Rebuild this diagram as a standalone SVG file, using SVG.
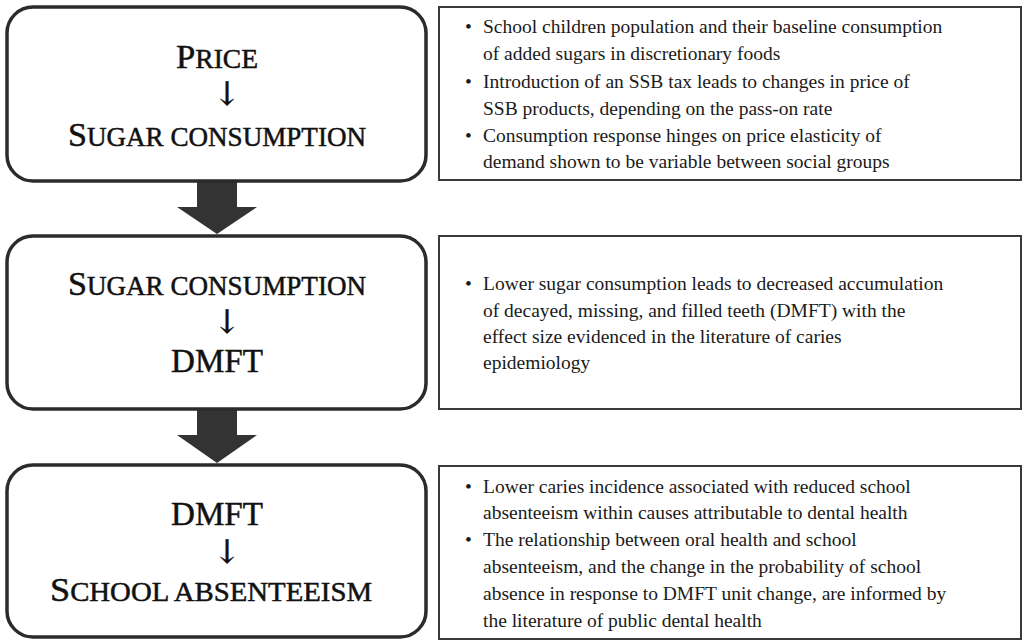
<svg xmlns="http://www.w3.org/2000/svg" width="1025" height="642" viewBox="0 0 1025 642">
<style>
.node{fill:#fff;stroke:#2b2b2b;stroke-width:3.5}
.note{fill:#fff;stroke:#3a3a3a;stroke-width:2}
.big{font-family:"Liberation Serif","Times New Roman",serif;font-size:34px;fill:#111;stroke:#111;stroke-width:0.5}
.sc{font-size:27px}
.arr{font-family:"DejaVu Serif","Liberation Serif",serif;font-size:33px;fill:#111;stroke:#111;stroke-width:0.4}
.txt{font-family:"Liberation Serif","Times New Roman",serif;font-size:19.5px;fill:#1a1a1a}
.blk{fill:#333}
</style>
<g id="connectors">
<polygon class="blk" points="197,182 237,182 237,207 257,207 217,234 177,207 197,207"/>
<polygon class="blk" points="197,410 237,410 237,435 257,435 217,463 177,435 197,435"/>
</g>
<g id="node-price">
<rect class="node" x="7" y="7" width="419" height="174" rx="26"/>
<text class="big" x="217" y="68" text-anchor="middle" textLength="82" lengthAdjust="spacingAndGlyphs">P<tspan class="sc">RICE</tspan></text>
<text class="arr" x="227" y="105" text-anchor="middle">↓</text>
<text class="big" x="217" y="146" text-anchor="middle" textLength="298" lengthAdjust="spacingAndGlyphs">S<tspan class="sc">UGAR CONSUMPTION</tspan></text>
</g>
<g id="node-sugar">
<rect class="node" x="7" y="236" width="419" height="173" rx="26"/>
<text class="big" x="217" y="295" text-anchor="middle" textLength="298" lengthAdjust="spacingAndGlyphs">S<tspan class="sc">UGAR CONSUMPTION</tspan></text>
<text class="arr" x="227" y="333" text-anchor="middle">↓</text>
<text class="big" x="217" y="372" text-anchor="middle" textLength="92" lengthAdjust="spacingAndGlyphs">DMFT</text>
</g>
<g id="node-dmft">
<rect class="node" x="7" y="465" width="419" height="172" rx="26"/>
<text class="big" x="217" y="525" text-anchor="middle" textLength="92" lengthAdjust="spacingAndGlyphs">DMFT</text>
<text class="arr" x="227" y="563" text-anchor="middle">↓</text>
<text class="big" x="211" y="601" text-anchor="middle" textLength="322" lengthAdjust="spacingAndGlyphs">S<tspan class="sc">CHOOL ABSENTEEISM</tspan></text>
</g>
<g id="note-1">
<rect class="note" x="439" y="7" width="582" height="173"/>
<text class="txt">
<tspan x="465" y="33">•</tspan><tspan x="483" y="33">School children population and their baseline consumption</tspan>
<tspan x="483" y="60">of added sugars in discretionary foods</tspan>
<tspan x="465" y="88">•</tspan><tspan x="483" y="88">Introduction of an SSB tax leads to changes in price of</tspan>
<tspan x="483" y="115">SSB products, depending on the pass-on rate</tspan>
<tspan x="465" y="142">•</tspan><tspan x="483" y="142">Consumption response hinges on price elasticity of</tspan>
<tspan x="483" y="168">demand shown to be variable between social groups</tspan>
</text>
</g>
<g id="note-2">
<rect class="note" x="439" y="236" width="582" height="173"/>
<text class="txt">
<tspan x="465" y="290">•</tspan><tspan x="483" y="290">Lower sugar consumption leads to decreased accumulation</tspan>
<tspan x="483" y="317">of decayed, missing, and filled teeth (DMFT) with the</tspan>
<tspan x="483" y="343">effect size evidenced in the literature of caries</tspan>
<tspan x="483" y="369">epidemiology</tspan>
</text>
</g>
<g id="note-3">
<rect class="note" x="439" y="466" width="582" height="173"/>
<text class="txt">
<tspan x="465" y="493">•</tspan><tspan x="483" y="493">Lower caries incidence associated with reduced school</tspan>
<tspan x="483" y="519">absenteeism within causes attributable to dental health</tspan>
<tspan x="465" y="546">•</tspan><tspan x="483" y="546">The relationship between oral health and school</tspan>
<tspan x="483" y="573">absenteeism, and the change in the probability of school</tspan>
<tspan x="483" y="600">absence in response to DMFT unit change, are informed by</tspan>
<tspan x="483" y="627">the literature of public dental health</tspan>
</text>
</g>
</svg>
